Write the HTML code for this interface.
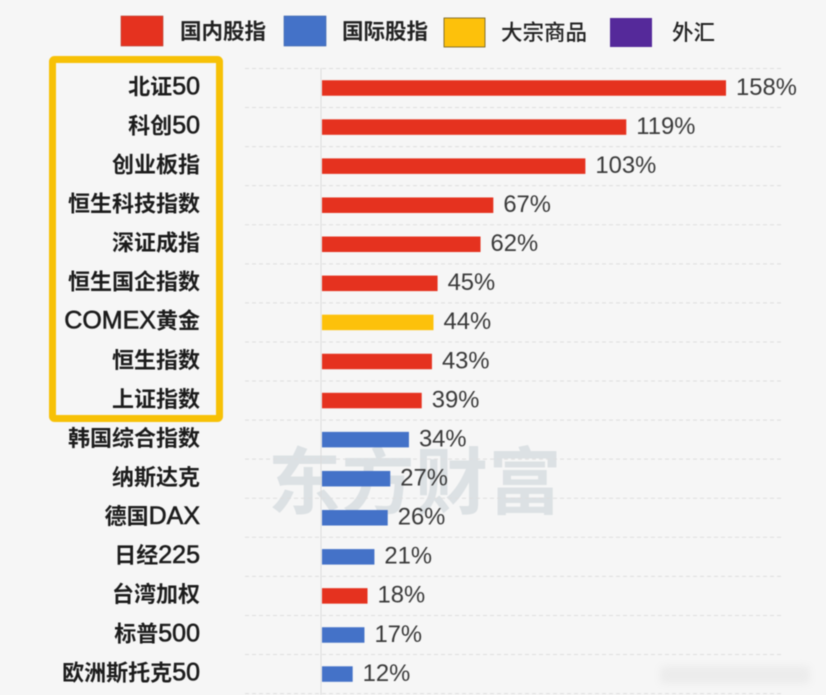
<!DOCTYPE html>
<html lang="zh">
<head>
<meta charset="utf-8">
<title>涨幅排行</title>
<style>
html,body{margin:0;padding:0;background:#f6f6f6;}
body{width:826px;height:695px;overflow:hidden;}
svg{display:block;filter:blur(0.55px);}
text{font-family:"Liberation Sans","Noto Sans CJK SC",sans-serif;}
</style>
</head>
<body>
<svg id="chart" xmlns="http://www.w3.org/2000/svg" width="826" height="695" viewBox="0 0 826 695">
  <defs>
    <filter id="smudge" x="-20%" y="-50%" width="140%" height="200%"><feGaussianBlur stdDeviation="4"/></filter>
  </defs>
  <rect x="0" y="0" width="826" height="695" fill="#f6f6f6"/>
  <text x="415" y="508" text-anchor="middle" font-size="73" font-weight="700" fill="#dce1e4" style="letter-spacing:0.5px">东方财富</text>
  <g id="grid"></g>
  <line x1="321" y1="68" x2="321" y2="695" stroke="#dcdcdc" stroke-width="1"/>
  <g id="bars"></g>
  <g id="categories"></g>
  <g id="values"></g>
  <g id="legend">
    <g>
      <rect x="121" y="16" width="42" height="30" fill="#e5321f" stroke="#b5402f" stroke-width="0.6"/>
      <text x="180" y="39" font-size="21.5" font-weight="700" fill="#222">国内股指</text>
    </g>
    <g>
      <rect x="284" y="16" width="42" height="30" fill="#4472c8" stroke="#3a62a8" stroke-width="0.6"/>
      <text x="342" y="39" font-size="21.5" font-weight="700" fill="#222">国际股指</text>
    </g>
    <g>
      <rect x="444" y="18" width="41" height="29" fill="#fdc10b" stroke="#6b5a1c" stroke-width="0.8"/>
      <text x="501" y="40" font-size="21.5" font-weight="500" fill="#222">大宗商品</text>
    </g>
    <g>
      <rect x="610" y="18" width="42" height="29" fill="#55299a"/>
      <text x="672" y="40" font-size="21.5" font-weight="500" fill="#222">外汇</text>
    </g>
  </g>
  <rect x="52.5" y="59.5" width="167" height="359" rx="2" fill="none" stroke="#f7c106" stroke-width="7"/>
  <rect x="660" y="666" width="150" height="18" rx="4" fill="#ececec" filter="url(#smudge)"/>
</svg>
<script>
const categories = ["北证50","科创50","创业板指","恒生科技指数","深证成指","恒生国企指数","COMEX黄金","恒生指数","上证指数","韩国综合指数","纳斯达克","德国DAX","日经225","台湾加权","标普500","欧洲斯托克50"];
const seriesValues = [158,119,103,67,62,45.2,43.6,43,39,34,26.7,25.7,20.5,17.8,16.6,12];
const seriesGroups = ["domestic","domestic","domestic","domestic","domestic","domestic","commodity","domestic","domestic","international","international","international","international","domestic","international","international"];
const groupColors = {domestic:"#e5321f",international:"#4472c8",commodity:"#fdc10b",forex:"#55299a"};

const NS = "http://www.w3.org/2000/svg";
const plotLeft = 322, pxPerUnit = 2.557, firstRowY = 88, rowStep = 39.07, barHeight = 15.5;
function xScale(v){ return plotLeft + v * pxPerUnit; }
function yScale(i){ return firstRowY + i * rowStep; }
function make(tag, attrs){
  const el = document.createElementNS(NS, tag);
  for (const k in attrs) el.setAttribute(k, attrs[k]);
  return el;
}
const gridG = document.getElementById("grid");
const barsG = document.getElementById("bars");
const catsG = document.getElementById("categories");
const valsG = document.getElementById("values");

for (let i = 0; i <= categories.length; i++) {
  const gy = yScale(i) - rowStep / 2;
  const line = make("line", {x1:245, x2:782, y1:gy, y2:gy, stroke:"#dedede", "stroke-width":1, "stroke-dasharray":"4 3"});
  
  
  gridG.appendChild(line);
}
categories.forEach(function(name, i){
  const v = seriesValues[i];
  const cy = yScale(i);
  const bar = make("rect", {x:plotLeft, y:cy - barHeight / 2, width:xScale(v) - plotLeft, height:barHeight, fill:groupColors[seriesGroups[i]]});
  
  
  barsG.appendChild(bar);

  const label = make("text", {x:200, y:cy + 6.3, "text-anchor":"end", "font-size":22, "font-weight":700, fill:"#1c1c1c"});
  name.split(/([A-Za-z0-9]+)/).forEach(function(part){
    if (!part) return;
    const span = make("tspan", /[A-Za-z0-9]/.test(part) ? {"font-size":25, "font-weight":400, stroke:"#1c1c1c", "stroke-width":0.6} : {});
    span.textContent = part;
    label.appendChild(span);
  });
  
  
  catsG.appendChild(label);

  const val = make("text", {x:xScale(v) + 10, y:cy + 6.8, "font-size":23.8, fill:"#3a3a3a"});
  val.textContent = Math.round(v) + "%";
  
  
  valsG.appendChild(val);
});
</script>
</body>
</html>
